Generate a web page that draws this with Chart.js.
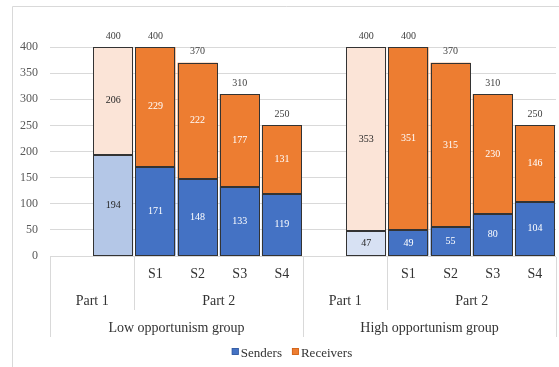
<!DOCTYPE html>
<html>
<head>
<meta charset="utf-8">
<script src="https://cdn.jsdelivr.net/npm/chart.js@4"></script>
<style>
  html, body { margin: 0; padding: 0; background: #ffffff; }
  canvas { display: block; }
</style>
</head>
<body>
<canvas id="chart" width="559" height="367"></canvas>
<script>
// Category slots: each group has an empty slot, the Part 1 bar, then S1..S4
const categories = ['', 'Part 1', 'S1', 'S2', 'S3', 'S4', '', 'Part 1', 'S1', 'S2', 'S3', 'S4'];
const stageLabels = ['', '', 'S1', 'S2', 'S3', 'S4', '', '', 'S1', 'S2', 'S3', 'S4'];

// Second label row: part names and the slots they span
const partNames = ['Part 1', 'Part 2', 'Part 1', 'Part 2'];
const partStart = [0, 2, 6, 8];
const partEnd = [1, 5, 7, 11];

// Third label row: groups and the slots they span
const groupNames = ['Low opportunism group', 'High opportunism group'];
const groupStart = [0, 6];
const groupEnd = [5, 11];

// Series values
const senders = [null, 194, 171, 148, 133, 119, null, 47, 49, 55, 80, 104];
const receivers = [null, 206, 229, 222, 177, 131, null, 353, 351, 315, 230, 146];

// Y axis ticks
const yTicks = [0, 50, 100, 150, 200, 250, 300, 350, 400];

const SERIF = "'Liberation Serif', 'Times New Roman', serif";
const BLUE = '#4472C4';
const ORANGE = '#ED7D31';

const senderColors = categories.map((c, i) => i === 1 ? '#B4C7E7' : (i === 7 ? '#D7E1F3' : BLUE));
const receiverColors = categories.map((c, i) => (i === 1 || i === 7) ? '#FBE4D7' : ORANGE);
const lightBars = categories.map((c, i) => i === 1 || i === 7);

const decorPlugin = {
  id: 'decor',
  beforeDraw(chart) {
    const ctx = chart.ctx;
    ctx.save();
    ctx.strokeStyle = '#D9D9D9';
    ctx.lineWidth = 1;
    ctx.beginPath();
    ctx.moveTo(12.5, 400);
    ctx.lineTo(12.5, 6.5);
    ctx.lineTo(600, 6.5);
    ctx.stroke();
    ctx.restore();
  },
  afterDatasetsDraw(chart) {
    const ctx = chart.ctx;
    const xs = chart.scales.x;
    const area = chart.chartArea;
    const slot = xs.width / categories.length;
    const edge = i => xs.getPixelForValue(i) - slot / 2;

    ctx.save();
    // crisp outlines round every bar segment
    ctx.strokeStyle = '#333333';
    ctx.lineWidth = 1;
    chart.data.datasets.forEach((ds, d) => {
      chart.getDatasetMeta(d).data.forEach((bar, i) => {
        if (ds.data[i] == null) return;
        const l = Math.round(bar.x - bar.width / 2) + 0.5;
        const r = Math.round(bar.x + bar.width / 2) - 0.5;
        const t = Math.round(Math.min(bar.y, bar.base)) + 0.5;
        const b = Math.round(Math.max(bar.y, bar.base)) - 0.5;
        ctx.strokeRect(l, t, r - l, b - t);
      });
    });

    // category axis line and separators
    ctx.strokeStyle = '#D9D9D9';
    ctx.lineWidth = 1;
    ctx.beginPath();
    ctx.moveTo(area.left, Math.round(area.bottom) + 0.5);
    ctx.lineTo(area.right, Math.round(area.bottom) + 0.5);
    const fullLines = [edge(0), edge(6), edge(11) + slot];
    const shortLines = [edge(2), edge(8)];
    fullLines.forEach(x => {
      const px = Math.round(x) + 0.5;
      ctx.moveTo(px, area.bottom + 1);
      ctx.lineTo(px, area.bottom + 81);
    });
    shortLines.forEach(x => {
      const px = Math.round(x) + 0.5;
      ctx.moveTo(px, area.bottom + 1);
      ctx.lineTo(px, area.bottom + 54);
    });
    ctx.stroke();

    // three rows of category labels
    ctx.fillStyle = '#333333';
    ctx.font = '14px ' + SERIF;
    ctx.textAlign = 'center';
    ctx.textBaseline = 'alphabetic';
    stageLabels.forEach((s, i) => {
      if (s) ctx.fillText(s, xs.getPixelForValue(i), area.bottom + 22);
    });
    partNames.forEach((p, k) => {
      const cx = (edge(partStart[k]) + edge(partEnd[k]) + slot) / 2;
      ctx.fillText(p, cx, area.bottom + 49);
    });
    groupNames.forEach((g, k) => {
      const cx = (edge(groupStart[k]) + edge(groupEnd[k]) + slot) / 2;
      ctx.fillText(g, cx, area.bottom + 76);
    });

    // value labels inside segments and totals above bars
    ctx.font = '10px ' + SERIF;
    ctx.textBaseline = 'middle';
    chart.data.datasets.forEach((ds, d) => {
      const meta = chart.getDatasetMeta(d);
      meta.data.forEach((bar, i) => {
        const v = ds.data[i];
        if (v == null) return;
        ctx.fillStyle = lightBars[i] ? '#262626' : '#FFFFFF';
        ctx.fillText(String(v), bar.x, (bar.y + bar.base) / 2);
      });
    });
    const topMeta = chart.getDatasetMeta(1);
    ctx.fillStyle = '#404040';
    topMeta.data.forEach((bar, i) => {
      if (senders[i] == null) return;
      const total = senders[i] + receivers[i];
      ctx.fillText(String(total), bar.x, bar.y - 11);
    });

    // legend
    const items = [
      { text: 'Senders', color: BLUE, border: '#2F5597' },
      { text: 'Receivers', color: ORANGE, border: '#C55A11' }
    ];
    ctx.font = '13px ' + SERIF;
    ctx.textAlign = 'left';
    ctx.textBaseline = 'alphabetic';
    const box = 7, gapText = 2, gapItem = 10;
    const widths = items.map(it => box + gapText + ctx.measureText(it.text).width);
    const totalW = widths.reduce((a, b) => a + b, 0) + gapItem * (items.length - 1);
    let x = 292 - totalW / 2;
    const base = 357;
    items.forEach((it, k) => {
      ctx.fillStyle = it.color;
      ctx.fillRect(x, base - 9, box, box);
      ctx.strokeStyle = it.border;
      ctx.lineWidth = 0.6;
      ctx.strokeRect(x + 0.3, base - 8.7, box - 0.6, box - 0.6);
      ctx.fillStyle = '#333333';
      ctx.fillText(it.text, x + box + gapText, base);
      x += widths[k] + gapItem;
    });
    ctx.restore();
  }
};

new Chart(document.getElementById('chart'), {
  type: 'bar',
  data: {
    labels: categories,
    datasets: [
      {
        label: 'Senders',
        data: senders,
        backgroundColor: senderColors,
        borderWidth: 0,
        barPercentage: 0.95,
        categoryPercentage: 1
      },
      {
        label: 'Receivers',
        data: receivers,
        backgroundColor: receiverColors,
        borderWidth: 0,
        barPercentage: 0.95,
        categoryPercentage: 1
      }
    ]
  },
  options: {
    responsive: false,
    animation: false,
    layout: { padding: { left: 0, top: 47, right: 3, bottom: 111 } },
    plugins: {
      legend: { display: false },
      tooltip: { enabled: false }
    },
    scales: {
      x: {
        stacked: true,
        display: false
      },
      y: {
        stacked: true,
        min: 0,
        max: 400,
        afterBuildTicks(scale) {
          scale.ticks = yTicks.map(v => ({ value: v }));
        },
        afterFit(scale) { scale.width = 50; },
        border: { display: false },
        grid: { color: '#D9D9D9', drawTicks: false, lineWidth: 1 },
        ticks: {
          padding: 12,
          color: '#595959',
          font: { family: SERIF, size: 12 }
        }
      }
    }
  },
  plugins: [decorPlugin]
});
</script>
</body>
</html>
